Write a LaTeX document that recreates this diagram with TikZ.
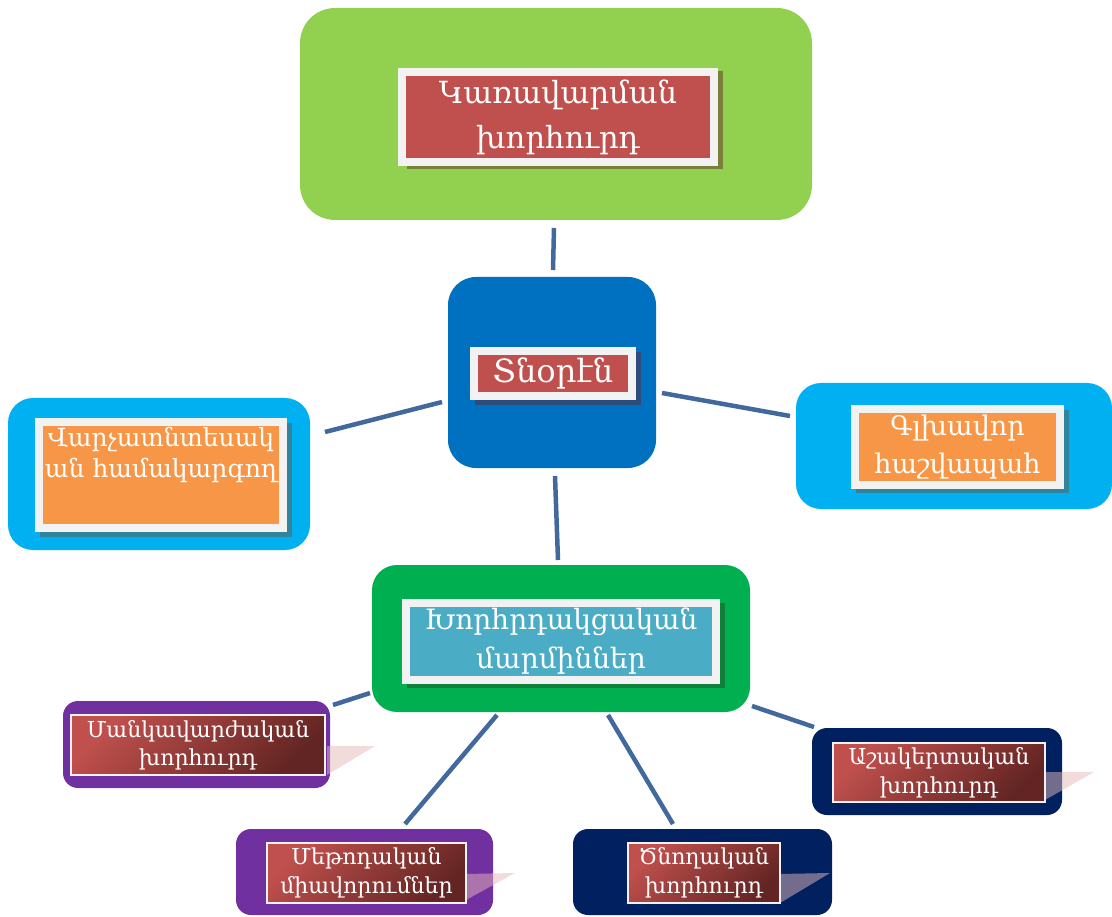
\documentclass[tikz,border=0pt]{standalone}
\usepackage{fontspec}
\setmainfont{DejaVu Serif}
\usetikzlibrary{calc}
\definecolor{lgreen}{HTML}{92D050}
\definecolor{redA}{HTML}{C0504D}
\definecolor{bblue}{HTML}{0070C0}
\definecolor{cyanb}{HTML}{00B0F0}
\definecolor{orng}{HTML}{F79646}
\definecolor{gbox}{HTML}{00B050}
\definecolor{tealb}{HTML}{4BACC6}
\definecolor{purp}{HTML}{7030A0}
\definecolor{navy}{HTML}{002060}
\definecolor{conn}{HTML}{41699D}
\definecolor{wfr}{HTML}{F2F2F2}
\definecolor{shOlive}{HTML}{7A7F3A}
\definecolor{shNavy}{HTML}{2D4C7C}
\definecolor{shTeal}{HTML}{31849B}
\definecolor{shGreen}{HTML}{107F3C}
\definecolor{dredA}{HTML}{C0504D}
\definecolor{dredB}{HTML}{632523}
\definecolor{pinkT}{HTML}{E6B9B8}
\tikzset{
  outer/.style={rectangle, inner sep=0pt},
  frame/.style={rectangle, draw=wfr, line width=8pt, text=white, inner sep=0pt, align=center},
  smallframe/.style={rectangle, draw=wfr, line width=2pt, text=white, inner sep=0pt, align=center,
     top color=dredA, bottom color=dredB, shading angle=45},
  link/.style={draw=conn, line width=4.5pt},
  wedge/.style={fill=pinkT, fill opacity=0.5, draw=none},
}
\begin{document}
\begin{tikzpicture}[x=1pt,y=-1pt]
\useasboundingbox (0,0) rectangle (1112,917);
% ---------- outer boxes
\node[outer, fill=lgreen, rounded corners=35pt, minimum width=512pt, minimum height=212pt] (top) at (556,114) {};
\node[outer, fill=bblue, rounded corners=28pt, minimum width=208pt, minimum height=191pt] (ctr) at (552,372.5) {};
\node[outer, fill=cyanb, rounded corners=25pt, minimum width=302pt, minimum height=152pt] (lft) at (159,474) {};
\node[outer, fill=cyanb, rounded corners=25pt, minimum width=316pt, minimum height=126pt] (rgt) at (954,446) {};
\node[outer, fill=gbox, rounded corners=25pt, minimum width=378pt, minimum height=147pt] (grn) at (561,638.5) {};
\node[outer, fill=purp, rounded corners=15pt, minimum width=267pt, minimum height=87pt] (m1) at (196.5,744.5) {};
\node[outer, fill=purp, rounded corners=15pt, minimum width=257pt, minimum height=86pt] (m2) at (364.5,872) {};
\node[outer, fill=navy, rounded corners=15pt, minimum width=259pt, minimum height=86pt] (m3) at (702.5,872) {};
\node[outer, fill=navy, rounded corners=15pt, minimum width=250pt, minimum height=87pt] (m4) at (937,771.5) {};
% ---------- shadows of frames
\fill[shOlive] (406-4+5,70-4+5) rectangle (714+4+5,160+4+5);
\fill[shNavy] (474-4+5,351-4+5) rectangle (632+4+5,396+4+5);
\fill[shTeal] (39-4+5,422-4+5) rectangle (283+4+5,528+4+5);
\fill[shTeal] (855-4+5,409-4+5) rectangle (1060+4+5,484+4+5);
\fill[shGreen] (406-4+5,602-4+5) rectangle (716+4+5,679+4+5);
% ---------- frames
\node[frame, fill=redA, minimum width=312pt, minimum height=90pt, font={\fontsize{30.5}{45}\selectfont}] (topin) at (558,117)
  {Կառավարման\\խորհուրդ};
\node[frame, fill=redA, minimum width=158pt, minimum height=45pt, font={\fontsize{32}{40}\selectfont}] (ctrin) at (553,373.5)
  {Տնօրէն};
\node[frame, fill=orng, minimum width=244pt, minimum height=106pt] (lftin) at (161,475) {};
\node[text=white, align=center, anchor=north, inner sep=0pt, font={\fontsize{25}{31}\selectfont}] (lfttxt) at (161,427)
  {Վարչատնտեսակ\\ան համակարգող};
\node[frame, fill=orng, minimum width=205pt, minimum height=75pt, font={\fontsize{27}{38}\selectfont}] (rgtin) at (957.5,447)
  {Գլխավոր\\հաշվապահ};
\node[frame, fill=tealb, minimum width=310pt, minimum height=77pt, font={\fontsize{28}{39}\selectfont}] (grnin) at (561,641)
  {Խորհրդակցական\\մարմիններ};
% ---------- wedges
\fill[wedge] (327,746) -- (375,746) -- (327,775) -- cycle;
\fill[wedge] (466,874) -- (515,873) -- (466,900) -- cycle;
\fill[wedge] (780,874) -- (830,873) -- (780,903) -- cycle;
\fill[wedge] (1045,772) -- (1094,772) -- (1045,800) -- cycle;
% ---------- small frames
\node[smallframe, minimum width=254pt, minimum height=60pt, font={\fontsize{22}{28}\selectfont}] (m1in) at (198,745)
  {Մանկավարժական\\խորհուրդ};
\node[smallframe, minimum width=199pt, minimum height=60pt, font={\fontsize{22}{29}\selectfont}] (m2in) at (366.5,873)
  {Մեթոդական\\միավորումներ};
\node[smallframe, minimum width=152pt, minimum height=60pt, font={\fontsize{22}{29}\selectfont}] (m3in) at (704,873)
  {Ծնողական\\խորհուրդ};
\node[smallframe, minimum width=212pt, minimum height=59pt, font={\fontsize{22}{29}\selectfont}] (m4in) at (939,772.5)
  {Աշակերտական\\խորհուրդ};
% ---------- connector end points
\coordinate (c1a) at (554,228); \coordinate (c1b) at (553,270);
\coordinate (c2a) at (325,432); \coordinate (c2b) at (442,402);
\coordinate (c3a) at (662,393); \coordinate (c3b) at (790,416);
\coordinate (c4a) at (555,476); \coordinate (c4b) at (558,560);
\coordinate (c5a) at (333,705); \coordinate (c5b) at (370,693);
\coordinate (c6a) at (497,715); \coordinate (c6b) at (405,824);
\coordinate (c7a) at (608,715); \coordinate (c7b) at (673,824);
\coordinate (c8a) at (752,706); \coordinate (c8b) at (814,727);
\draw[link] (c1a) -- (c1b);
\draw[link] (c2a) -- (c2b);
\draw[link] (c3a) -- (c3b);
\draw[link] (c4a) -- (c4b);
\draw[link] (c5a) -- (c5b);
\draw[link] (c6a) -- (c6b);
\draw[link] (c7a) -- (c7b);
\draw[link] (c8a) -- (c8b);
\end{tikzpicture}
\end{document}
